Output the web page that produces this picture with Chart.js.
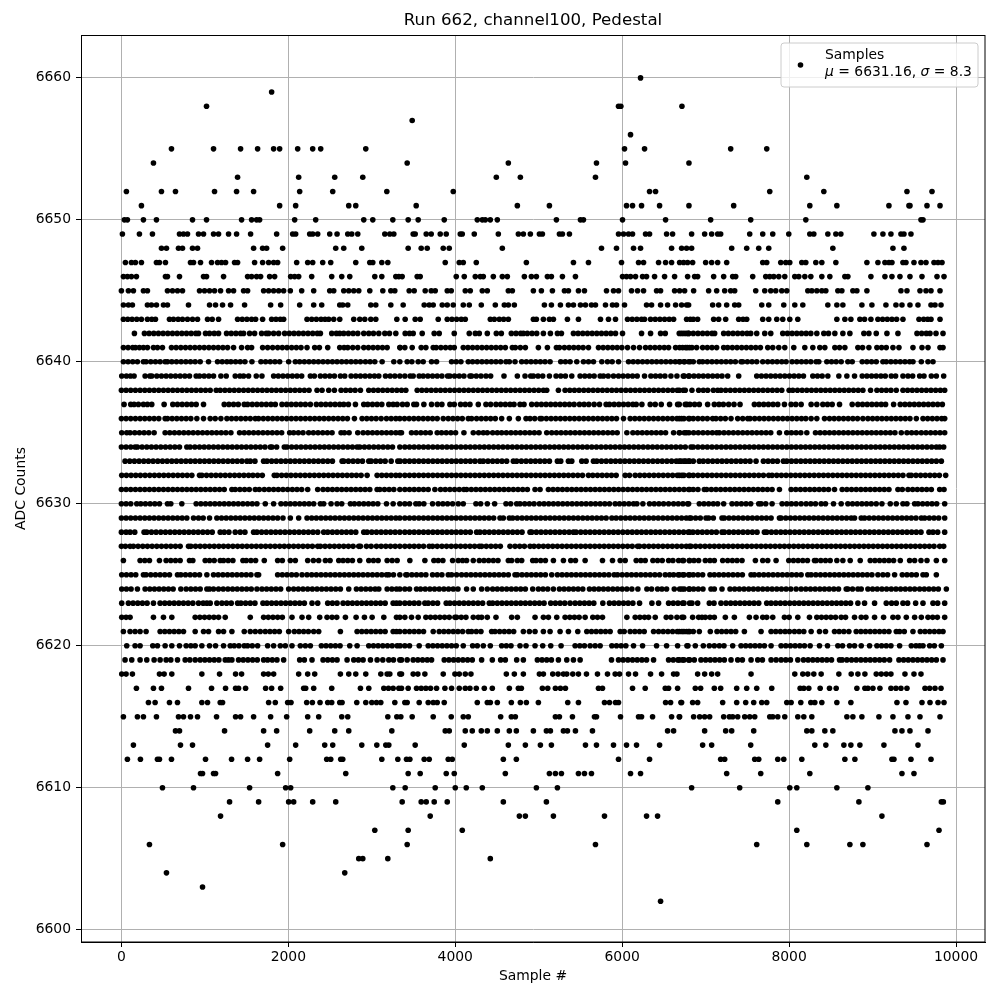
<!DOCTYPE html>
<html>
<head>
<meta charset="utf-8">
<script src="https://cdn.jsdelivr.net/npm/chart.js@4/dist/chart.umd.min.js"></script>
<style>
  html, body { margin: 0; padding: 0; background: #fff; }
  canvas { display: block; }
</style>
</head>
<body>
<canvas id="chart" width="1000" height="1000"></canvas>
<script>
// ─── sample numbers, one array per ADC level ───
const y6660 = [6220];
const y6659 = [1800];
const y6658 = [1020,5956,5984,6716];
const y6657 = [3484];
const y6656 = [6100];
const y6655 = [600,1104,1428,1632,1824,1896,2112,2292,2388,2928,6028,6268,7300,7732];
const y6654 = [384,3424,4636,5692,6040,6800];
const y6653 = [1392,2124,2556,2892,4492,4780,5680,8212];
const y6652 = [60,480,648,1116,1380,1584,2136,2532,3180,3976,6328,6400,7768,8416,9412,9712];
const y6651 = [240,1896,2088,2724,2808,3532,4744,5128,6052,6124,6232,6448,6800,7336,8248,8572,9196,9436,9448,9652,9808];
const y6650 = [36,72,264,420,852,1020,1440,1560,1620,1656,2076,2328,2904,3012,3252,3436,3556,3868,4264,4324,4360,4420,4504,5212,5500,5536,6004,6520,7060,7540,8200,9580,9604];
const y6649 = [12,216,372,696,744,792,924,984,1104,1164,1284,1380,1548,1860,2052,2088,2256,2292,2352,2496,2584,2712,2760,2832,3156,3216,3264,3496,3520,3652,3712,3820,3892,4060,4084,4228,4516,4756,4816,4900,5008,5044,5248,5284,5368,5956,6016,6076,6124,6280,6328,6532,6604,6832,6988,7072,7144,7180,7528,7684,7804,7996,8248,8296,8464,8560,8620,9016,9124,9220,9340,9376,9460];
const y6648 = [480,540,684,732,852,912,1584,1692,1740,1932,2568,2664,2880,3436,3592,3664,3856,3928,4564,5752,5932,6136,6220,6592,6712,6772,6832,7312,7492,7636,7756,8524,9244,9376];
const y6647 = [48,120,168,240,420,456,528,828,864,948,1080,1152,1200,1248,1356,1392,1596,1692,1764,1824,1872,2100,2232,2292,2412,2508,2808,2976,3012,3120,3192,3880,4048,4096,4252,4852,5416,5596,5992,6196,6256,6436,6520,6592,6688,6736,6784,6844,7000,7072,7144,7252,7684,7732,7900,7960,8008,8152,8200,8320,8392,8560,8932,9064,9148,9196,9232,9364,9400,9496,9580,9640,9736,9784,9832];
const y6646 = [24,72,120,180,528,552,696,984,1020,1224,1512,1560,1620,1668,1776,1836,2028,2076,2124,2280,2520,2640,2736,3036,3120,3288,3324,3364,3544,3580,4012,4108,4240,4300,4336,4456,4564,4624,4828,4912,4972,5104,5152,5284,5440,6004,6052,6100,6160,6244,6292,6388,6508,6628,6784,6868,6904,7096,7216,7324,7360,7564,7720,7768,7816,7876,7948,8068,8116,8188,8260,8392,8488,8668,8704,8980,9148,9232,9328,9448,9592,9772,9856];
const y6645 = [0,84,144,264,312,552,612,672,732,936,996,1056,1116,1188,1284,1344,1464,1512,1704,1764,1824,1884,1944,2024,2160,2304,2496,2544,2664,2724,2784,2844,2976,3132,3228,3276,3448,3508,3640,3712,3760,3904,3952,4120,4180,4324,4384,4636,4684,4936,5032,5164,5308,5356,5476,5548,5812,5896,5956,6112,6184,6256,6412,6460,6628,6688,6748,6856,7036,7132,7228,7300,7348,7600,7708,7780,7840,7912,7972,8224,8272,8332,8392,8440,8584,8632,8764,8812,8932,9340,9412,9568,9640,9700,9808];
const y6644 = [24,84,132,312,360,420,504,552,804,1056,1128,1212,1308,1476,1788,1908,2136,2304,2400,2616,2652,2712,2988,3048,3228,3376,3628,3688,3736,3844,3904,3976,4096,4168,4312,4480,4588,4636,4708,5068,5152,5260,5356,5416,5500,5560,5632,5680,5800,5884,5932,6028,6292,6352,6460,6544,6640,6712,6772,6796,7084,7156,7252,7348,7396,7672,7756,7936,8068,8164,8464,8572,8644,8872,8992,9160,9280,9352,9448,9544,9700,9748,9820];
const y6643 = [24,76,128,184,240,312,364,408,576,624,680,732,792,852,912,1032,1088,1164,1392,1448,1504,1560,1608,1692,1800,1852,1904,1944,2224,2280,2336,2392,2440,2484,2544,2616,2784,2856,2916,2988,3048,3300,3400,3520,3580,3796,3904,3960,4016,4072,4120,4420,4468,4528,4580,4636,4936,4972,5056,5128,5176,5344,5476,5740,5836,5920,6064,6120,6176,6232,6268,6340,6396,6452,6508,6564,6616,6772,6816,6852,6904,7096,7156,7240,7396,7448,7492,7684,7756,7852,7924,8008,8104,8572,8668,8740,8848,8904,8980,9064,9120,9176,9232,9288,9364,9556,9612,9660,9700,9808];
const y6642 = [156,276,332,388,444,500,556,612,668,724,780,836,892,924,1008,1056,1112,1164,1260,1316,1372,1428,1464,1536,1596,1680,1736,1764,1824,1884,1956,2012,2068,2124,2180,2236,2292,2348,2384,2520,2576,2616,2664,2720,2776,2832,2904,2964,3020,3084,3156,3212,3288,3400,3452,3496,3604,3748,3808,3988,4168,4240,4288,4384,4492,4552,4672,4728,4784,4816,4864,4920,4976,5056,5140,5224,5272,5416,5472,5528,5584,5640,5696,5752,5808,5864,5920,6004,6232,6340,6460,6516,6712,6768,6796,6684,6740,6796,6852,6908,6964,7020,7076,7108,7216,7272,7328,7384,7440,7496,7540,7612,7708,7780,7924,7980,8036,8092,8148,8204,8260,8332,8416,8472,8548,8644,8728,8896,8956,9044,9172,9304,9532,9588,9644,9688,9760,9844];
const y6641 = [24,80,136,168,216,264,312,384,432,492,600,656,712,768,824,880,936,992,1048,1104,1160,1216,1272,1344,1440,1512,1560,1692,1752,1812,1872,1928,1984,2040,2096,2152,2224,2316,2372,2472,2616,2668,2712,2772,2832,2904,2960,3016,3072,3128,3184,3336,3340,3396,3484,3592,3648,3736,3772,3828,3884,3940,3988,4096,4152,4208,4264,4320,4376,4432,4488,4544,4600,4684,4720,4780,4840,4996,5104,5212,5248,5308,5364,5420,5476,5532,5596,5716,5772,5828,5884,5940,5996,6064,6136,6208,6280,6336,6392,6448,6504,6556,6640,6688,6760,6808,6724,6780,6836,6892,6964,7020,7076,7132,7216,7264,7320,7376,7432,7488,7544,7600,7656,7744,7804,7876,7948,8056,8188,8284,8368,8428,8548,8604,8668,8824,8880,8956,9052,9108,9164,9244,9316,9484,9592,9664,9808,9844];
const y6640 = [24,80,136,192,264,296,352,408,464,524,552,604,660,716,772,828,884,944,1044,1152,1208,1264,1312,1368,1424,1480,1564,1672,1728,1784,1840,1896,2004,2084,2136,2192,2248,2304,2360,2416,2472,2528,2584,2640,2696,2752,2808,2864,2924,2980,3036,3124,3264,3336,3424,3480,3556,3616,3716,3776,3956,4012,4068,4156,4208,4264,4320,4376,4432,4488,4544,4608,4648,4716,4796,4852,4908,4964,5020,5076,5136,5264,5320,5376,5456,5536,5596,5656,5756,5824,5880,5956,6076,6132,6188,6244,6300,6356,6412,6468,6524,6580,6636,6692,6748,6816,6684,6740,6796,6852,6924,6964,7020,7076,7132,7188,7244,7300,7356,7424,7444,7500,7556,7612,7684,7744,7800,7856,7912,7964,8036,8092,8148,8204,8260,8324,8356,8452,8508,8564,8624,8704,8756,8876,8932,8988,9044,9124,9164,9220,9276,9332,9388,9444,9484,9584,9664,9724];
const y6639 = [4,60,108,152,284,340,364,424,480,536,592,648,704,760,816,896,936,992,1048,1104,1192,1256,1364,1420,1464,1524,1616,1684,1824,1880,1936,1992,2048,2104,2160,2264,2312,2384,2440,2496,2552,2624,2676,2752,2808,2864,2920,2976,3032,3084,3164,3220,3276,3336,3396,3460,3496,3568,3616,3672,3728,3784,3840,3908,3936,3992,4048,4104,4176,4196,4252,4308,4368,4424,4584,4744,4836,4904,4936,4992,5048,5128,5208,5264,5320,5396,5496,5552,5608,5664,5736,5776,5832,5896,5956,6012,6068,6124,6180,6268,6344,6400,6456,6512,6584,6656,6744,6796,6732,6804,6860,6916,6972,7028,7084,7140,7196,7264,7396,7612,7668,7724,7780,7836,7892,7948,8004,8060,8116,8172,8284,8340,8396,8464,8596,8692,8784,8876,8932,8988,9044,9100,9152,9224,9276,9364,9424,9480,9564,9616,9704,9764,9852];
const y6638 = [0,56,112,168,224,280,336,392,448,504,560,616,672,728,784,840,896,952,1008,1064,1136,1184,1240,1296,1352,1408,1464,1520,1576,1632,1688,1744,1800,1856,1912,1968,2024,2080,2136,2192,2248,2344,2404,2484,2552,2632,2688,2744,2800,2864,2964,3020,3076,3132,3188,3244,3300,3356,3408,3544,3600,3656,3712,3768,3824,3880,3936,3992,4048,4104,4160,4216,4272,4328,4384,4440,4496,4552,4608,4664,4720,4776,4832,4888,4944,5000,5056,5096,5236,5316,5372,5428,5484,5540,5596,5652,5708,5764,5820,5876,5932,5988,6044,6100,6156,6212,6268,6324,6380,6436,6492,6548,6604,6660,6756,6684,6732,6836,6916,6972,7024,7092,7144,7184,7240,7296,7352,7408,7464,7520,7576,7632,7688,7744,7800,7856,7912,8000,8044,8100,8156,8212,8268,8324,8380,8436,8492,8548,8604,8660,8716,8772,8828,8884,8976,9052,9108,9164,9220,9284,9364,9420,9476,9532,9588,9644,9700,9756,9812,9864];
const y6637 = [32,112,152,204,264,312,364,512,616,672,728,784,840,896,984,1232,1288,1344,1400,1472,1512,1568,1624,1680,1736,1792,1844,1924,1980,2036,2092,2148,2204,2264,2336,2392,2448,2504,2560,2616,2664,2720,2804,2904,2952,3008,3064,3120,3204,3256,3304,3368,3424,3504,3536,3624,3716,3784,3840,3936,3988,4064,4120,4176,4276,4368,4424,4488,4544,4600,4656,4704,4776,4824,4916,4976,5032,5088,5144,5200,5256,5312,5368,5424,5488,5544,5600,5664,5728,5808,5848,5904,5960,6016,6072,6128,6168,6236,6336,6396,6468,6568,6664,6776,6684,6756,6812,6868,6924,7024,7104,7160,7212,7276,7340,7412,7584,7640,7696,7752,7808,7864,7944,8024,8080,8144,8264,8332,8404,8460,8516,8604,8756,8824,8880,8936,8992,9048,9104,9156,9252,9332,9388,9444,9500,9556,9612,9668,9724,9780,9836];
const y6636 = [0,56,112,168,224,280,336,392,448,524,552,608,664,720,776,832,904,984,1064,1124,1192,1264,1320,1376,1432,1488,1544,1604,1644,1700,1756,1812,1868,1924,1980,2036,2092,2148,2204,2260,2316,2372,2428,2484,2540,2596,2652,2708,2792,2884,2940,2996,3052,3112,3176,3232,3288,3336,3392,3448,3504,3560,3616,3672,3728,3784,3856,3916,3972,4028,4084,4156,4196,4256,4312,4368,4424,4480,4556,4648,4756,4848,4896,4952,5016,5036,5092,5148,5204,5260,5316,5372,5428,5484,5540,5596,5652,5708,5764,5820,5876,5932,6016,6096,6152,6208,6264,6320,6376,6432,6488,6544,6600,6656,6712,6808,6684,6740,6796,6852,6908,6964,7020,7084,7124,7180,7236,7304,7384,7444,7504,7532,7588,7644,7700,7756,7812,7868,7924,7980,8036,8092,8148,8200,8264,8332,8424,8484,8540,8596,8652,8708,8764,8820,8884,8944,9000,9056,9112,9168,9224,9280,9336,9392,9448,9524,9604,9660,9716,9772,9828,9864];
const y6635 = [4,64,104,160,216,272,328,392,524,580,636,692,748,804,860,916,972,1028,1084,1140,1196,1252,1312,1416,1472,1528,1584,1640,1696,1752,1808,1864,1920,2016,2064,2120,2176,2244,2300,2356,2412,2468,2524,2632,2672,2728,2832,2896,2952,3008,3064,3120,3176,3232,3288,3336,3356,3476,3532,3588,3644,3700,3784,3836,3892,3948,4004,4104,4216,4280,4336,4384,4448,4504,4556,4612,4668,4724,4780,4836,4892,4948,5004,5096,5156,5212,5268,5324,5380,5436,5492,5548,5604,5660,5716,5772,5828,5884,5940,6056,6128,6184,6240,6296,6352,6408,6464,6520,6616,6688,6768,6684,6744,6800,6856,6912,6968,7024,7080,7132,7164,7220,7276,7332,7388,7444,7500,7556,7612,7668,7724,7780,7884,7972,8028,8084,8140,8212,8316,8372,8428,8484,8540,8596,8652,8708,8764,8820,8876,8932,8988,9044,9100,9156,9212,9268,9344,9412,9468,9524,9584,9640,9696,9752,9808,9864];
const y6634 = [0,56,112,164,192,248,304,360,416,472,528,584,640,696,784,824,880,936,992,1048,1104,1160,1216,1272,1328,1384,1440,1496,1552,1608,1664,1720,1784,1804,1860,1952,1984,2040,2096,2152,2208,2264,2320,2376,2432,2488,2544,2600,2656,2712,2768,2824,2856,2912,2968,3024,3080,3136,3192,3248,3336,3396,3452,3508,3564,3620,3676,3732,3788,3844,3900,3956,4012,4068,4124,4180,4236,4292,4348,4404,4460,4516,4572,4628,4684,4740,4796,4852,4908,4964,5020,5076,5132,5188,5244,5300,5356,5412,5468,5524,5580,5636,5692,5748,5804,5860,5916,5972,6028,6084,6140,6196,6252,6308,6364,6420,6476,6532,6588,6644,6700,6756,6824,6852,6908,6964,7020,7076,7132,7188,7244,7300,7356,7412,7468,7524,7580,7636,7692,7748,7804,7860,7916,7972,8028,8084,8140,8196,8252,8308,8364,8420,8476,8532,8588,8644,8700,8756,8812,8868,8924,8980,9036,9092,9148,9204,9260,9316,9372,9428,9484,9540,9596,9652,9708,9764,9804,9852];
const y6633 = [44,100,156,212,268,324,380,436,492,548,604,660,716,772,828,884,940,996,1052,1108,1164,1220,1276,1332,1388,1444,1504,1544,1600,1704,1744,1800,1856,1912,1968,2024,2080,2136,2192,2248,2304,2360,2416,2472,2528,2644,2664,2720,2776,2832,2888,2964,2992,3048,3104,3160,3232,3312,3340,3396,3452,3508,3564,3620,3676,3732,3788,3844,3900,3956,4012,4068,4124,4180,4236,4296,4336,4392,4448,4504,4560,4616,4696,4736,4792,4848,4904,4960,5016,5072,5128,5224,5264,5356,5396,5516,5568,5656,5696,5752,5808,5864,5920,5976,6032,6088,6144,6200,6256,6312,6368,6424,6480,6536,6592,6648,6704,6760,6808,6684,6740,6796,6852,6924,6972,7028,7084,7140,7196,7252,7308,7364,7420,7476,7532,7604,7692,7748,7804,7860,7932,7972,8028,8084,8140,8196,8252,8308,8364,8420,8476,8532,8588,8644,8700,8756,8812,8868,8924,8980,9036,9092,9148,9204,9260,9316,9372,9428,9484,9540,9596,9652,9708,9764,9824];
const y6632 = [4,60,116,172,228,284,340,396,452,508,564,620,676,732,788,844,936,964,1020,1076,1132,1188,1244,1300,1356,1412,1468,1524,1576,1632,1688,1832,1864,1920,1976,2032,2088,2144,2200,2256,2312,2368,2424,2480,2536,2592,2648,2704,2760,2816,2872,2944,3064,3120,3176,3232,3288,3336,3396,3452,3508,3564,3620,3676,3732,3788,3844,3900,3956,4012,4068,4124,4180,4236,4292,4348,4404,4460,4516,4572,4628,4684,4740,4796,4852,4908,4964,5020,5076,5132,5188,5244,5300,5356,5412,5468,5524,5596,5648,5704,5760,5816,5872,5928,6036,6088,6156,6212,6268,6324,6380,6436,6492,6548,6604,6660,6716,6808,6684,6740,6796,6852,6908,6964,7020,7076,7132,7188,7244,7300,7356,7412,7468,7524,7580,7636,7692,7756,7796,7852,7908,7964,8020,8076,8132,8188,8244,8300,8356,8412,8468,8524,8580,8636,8692,8748,8804,8860,8916,8972,9028,9084,9140,9196,9252,9308,9364,9436,9464,9520,9576,9632,9688,9744,9800,9876];
const y6631 = [0,56,112,168,224,280,336,392,448,504,560,616,672,728,784,840,896,952,1008,1064,1120,1176,1232,1324,1364,1420,1476,1532,1604,1652,1712,1768,1824,1880,1936,1992,2048,2104,2160,2232,2352,2416,2472,2528,2584,2640,2696,2752,2808,2864,2920,2976,3064,3096,3152,3208,3264,3336,3396,3452,3508,3564,3620,3676,3756,3824,3880,3936,3992,4048,4104,4136,4192,4248,4304,4360,4416,4472,4528,4584,4640,4696,4752,4808,4864,4956,5016,5116,5172,5228,5284,5340,5396,5452,5508,5564,5620,5676,5732,5788,5844,5900,5956,6012,6068,6124,6180,6236,6292,6348,6404,6460,6516,6572,6628,6684,6740,6808,6796,6852,6908,6984,7012,7068,7124,7180,7236,7292,7348,7404,7460,7516,7572,7628,7684,7740,7796,7884,8024,8080,8136,8192,8248,8304,8360,8416,8472,8544,8636,8692,8748,8804,8860,8916,8972,9028,9084,9140,9196,9304,9356,9424,9480,9536,9592,9648,9704,9804,9856];
const y6630 = [0,56,112,184,232,288,344,400,456,552,592,724,896,952,1008,1064,1120,1176,1232,1288,1344,1400,1456,1512,1568,1624,1724,1824,1912,1968,2024,2080,2136,2192,2248,2304,2384,2424,2512,2584,2640,2744,2792,2848,2904,2960,3016,3072,3176,3256,3336,3396,3452,3528,3568,3624,3728,3796,3852,3908,3968,4036,4096,4248,4304,4384,4472,4608,4664,4736,4776,4832,4888,4944,5008,5064,5120,5176,5232,5288,5344,5400,5456,5512,5568,5624,5680,5736,5792,5848,5916,5968,6024,6080,6136,6176,6248,6328,6384,6440,6496,6556,6616,6672,6728,6796,6784,6924,6980,7036,7092,7144,7216,7316,7372,7428,7484,7540,7636,7664,7720,7796,7916,7972,8028,8084,8144,8204,8260,8316,8384,8436,8532,8624,8704,8760,8816,8872,8928,8984,9044,9112,9212,9284,9364,9412,9504,9544,9600,9656,9712,9768,9864];
const y6629 = [0,56,112,168,224,280,336,392,448,504,560,616,672,728,784,864,924,980,1056,1144,1200,1256,1312,1368,1424,1480,1536,1592,1648,1704,1760,1816,1872,1936,2024,2124,2224,2280,2336,2392,2448,2504,2560,2616,2672,2728,2784,2840,2896,2952,3008,3064,3120,3176,3232,3288,3336,3396,3452,3508,3564,3620,3676,3732,3788,3844,3900,3956,4012,4068,4124,4180,4236,4292,4348,4404,4460,4536,4576,4648,4688,4744,4800,4856,4912,4968,5024,5080,5136,5192,5248,5304,5360,5416,5472,5528,5584,5640,5696,5752,5808,5876,5928,5984,6040,6096,6152,6208,6264,6320,6376,6432,6488,6544,6600,6656,6712,6808,6768,6824,6880,6936,7004,7036,7092,7196,7224,7280,7336,7392,7448,7504,7560,7616,7672,7728,7784,7884,7904,7960,8016,8072,8128,8184,8240,8296,8352,8408,8464,8520,8576,8632,8688,8744,8784,8864,8904,8960,9016,9072,9128,9184,9240,9296,9352,9408,9464,9520,9584,9624,9680,9736,9792,9864];
const y6628 = [0,56,104,160,272,304,360,416,472,528,584,640,696,752,808,864,920,976,1032,1088,1184,1232,1288,1364,1424,1480,1584,1624,1680,1736,1792,1848,1904,1960,2016,2072,2128,2184,2240,2296,2352,2424,2472,2528,2584,2640,2696,2752,2808,2904,2944,3000,3056,3112,3168,3224,3280,3336,3396,3452,3508,3564,3620,3676,3732,3788,3844,3900,3956,4012,4068,4124,4180,4256,4296,4352,4408,4464,4520,4576,4632,4688,4744,4800,4896,4916,4972,5028,5084,5140,5196,5252,5308,5364,5416,5448,5504,5560,5616,5672,5728,5784,5840,5896,5952,6008,6064,6120,6176,6232,6288,6344,6400,6456,6512,6568,6624,6680,6736,6808,6792,6848,6904,6960,7016,7072,7128,7196,7224,7280,7336,7392,7448,7504,7560,7616,7704,7732,7788,7844,7900,7956,8012,8068,8124,8180,8236,8292,8348,8404,8460,8516,8572,8628,8684,8740,8796,8852,8908,8964,9020,9076,9132,9188,9244,9300,9356,9412,9468,9524,9580,9676,9724,9780,9864];
const y6627 = [0,48,104,144,200,256,312,368,424,480,536,592,648,704,804,832,888,944,1000,1056,1112,1168,1224,1280,1336,1392,1448,1504,1560,1616,1672,1728,1784,1840,1896,1952,2008,2064,2120,2176,2232,2288,2352,2384,2440,2496,2552,2608,2664,2720,2776,2844,2864,2936,2992,3056,3112,3168,3224,3280,3336,3396,3452,3508,3564,3620,3688,3728,3784,3840,3896,3952,4008,4064,4120,4176,4232,4288,4316,4372,4428,4484,4540,4656,4716,4772,4828,4896,4944,5000,5056,5112,5168,5224,5280,5336,5392,5448,5504,5560,5616,5672,5728,5784,5840,5896,5952,6008,6064,6120,6184,6208,6264,6320,6376,6432,6488,6544,6600,6656,6712,6808,6768,6824,6880,6936,6992,7048,7104,7160,7216,7272,7328,7384,7440,7496,7552,7608,7664,7720,7776,7832,7888,7944,8000,8056,8112,8168,8224,8280,8336,8392,8448,8504,8560,8616,8672,8728,8784,8840,8896,8952,9008,9064,9120,9176,9232,9288,9344,9400,9456,9512,9568,9624,9680,9736,9804,9852];
const y6626 = [24,224,280,336,456,536,592,648,704,816,856,1004,1056,1112,1184,1224,1280,1336,1456,1496,1552,1608,1712,1872,1928,2024,2084,2232,2300,2364,2444,2500,2604,2656,2712,2768,2856,2964,3020,3076,3184,3244,3304,3456,3636,3744,3796,3852,3968,4036,4088,4136,4216,4288,4344,4400,4456,4512,4636,4676,4744,4796,4928,4968,5024,5080,5176,5296,5384,5440,5556,5764,5884,5976,6036,6168,6224,6276,6368,6424,6480,6556,6608,6676,6736,6808,6724,6804,6860,6916,6996,7052,7104,7204,7264,7320,7376,7436,7596,7684,7744,7844,7996,8052,8108,8164,8220,8304,8324,8380,8436,8492,8572,8644,8732,8852,8972,9028,9084,9140,9196,9252,9332,9444,9504,9580,9652,9764,9864];
const y6625 = [4,60,116,172,264,296,352,408,464,520,576,672,712,768,824,880,936,1024,1104,1160,1216,1272,1328,1384,1440,1496,1552,1624,1644,1872,1928,1984,2040,2096,2164,2224,2280,2336,2392,2448,2504,2560,2616,2672,2728,2784,2840,2896,2952,3008,3064,3120,3176,3204,3260,3336,3408,3424,3480,3536,3592,3648,3728,3784,3840,3916,3956,4016,4076,4132,4188,4244,4300,4356,4412,4468,4524,4580,4636,4716,4744,4800,4856,4912,4968,5024,5080,5156,5224,5280,5336,5392,5448,5504,5560,5616,5672,5728,5784,5840,5904,5944,6000,6056,6112,6168,6224,6280,6336,6392,6448,6516,6568,6616,6672,6728,6808,6684,6740,6796,6852,6908,6964,7052,7104,7160,7216,7272,7328,7384,7440,7544,7584,7640,7696,7752,7808,7864,7920,7976,8032,8088,8144,8224,8264,8320,8376,8432,8488,8544,8600,8656,8712,8768,8824,8880,8936,8992,9064,9124,9180,9264,9356,9412,9468,9524,9604,9644,9764];
const y6624 = [4,60,116,192,284,340,396,452,508,564,620,712,776,832,888,944,1024,1056,1104,1164,1220,1276,1332,1388,1444,1500,1556,1624,1684,1740,1796,1852,1908,2004,2064,2120,2176,2232,2288,2344,2400,2456,2512,2568,2624,2724,2816,2872,2928,2984,3040,3084,3184,3240,3296,3336,3396,3452,3536,3584,3640,3696,3752,3808,3864,3920,3976,4032,4136,4216,4316,4384,4448,4504,4560,4616,4672,4728,4784,4840,4928,4996,5052,5108,5176,5248,5304,5360,5416,5472,5528,5608,5664,5720,5776,5832,5888,5944,6000,6056,6116,6188,6296,6352,6424,6476,6532,6624,6688,6744,6808,6716,6800,6856,6912,6968,7064,7104,7196,7292,7348,7404,7460,7516,7572,7628,7684,7740,7796,7852,7908,7964,8020,8084,8144,8200,8256,8312,8368,8424,8480,8536,8592,8684,8704,8760,8824,8864,8944,9000,9056,9112,9168,9224,9280,9336,9392,9448,9504,9564,9620,9676,9732,9788,9884];
const y6623 = [4,84,140,196,252,308,384,464,520,576,632,688,744,800,856,924,980,1024,1064,1144,1204,1260,1316,1392,1432,1488,1544,1600,1696,1744,1800,1856,1912,1968,2024,2080,2136,2192,2284,2352,2472,2528,2584,2656,2712,2768,2824,2880,2936,2992,3048,3104,3160,3256,3296,3336,3396,3452,3508,3564,3636,3676,3732,3788,3892,3936,3992,4048,4104,4160,4216,4272,4328,4408,4448,4504,4560,4616,4672,4728,4784,4840,4896,4952,5008,5064,5144,5200,5256,5312,5376,5436,5492,5548,5604,5660,5768,5848,5904,5960,6016,6072,6128,6208,6356,6436,6556,6612,6668,6724,6808,6740,6836,6904,7044,7100,7184,7244,7300,7356,7412,7468,7524,7580,7636,7732,7784,7840,7896,7952,8008,8064,8120,8176,8232,8288,8344,8400,8456,8512,8568,8624,8680,8736,8824,8904,9024,9164,9228,9284,9364,9420,9516,9604,9724,9780,9864];
const y6622 = [4,56,104,384,504,604,884,940,996,1052,1108,1164,1244,1544,1704,1760,1816,1872,1928,2044,2164,2244,2376,2464,2524,2580,2684,2812,2912,3004,3144,3296,3336,3396,3476,3556,3648,3704,3760,3816,3872,3928,3996,4016,4072,4128,4216,4276,4316,4384,4488,4676,4744,4956,5056,5116,5216,5316,5372,5428,5484,5556,5648,5704,5764,6056,6156,6212,6268,6316,6396,6528,6584,6656,6736,6716,6844,6916,6956,6996,7052,7104,7236,7344,7524,7604,7684,7732,7804,7944,8000,8104,8244,8332,8388,8444,8500,8556,8624,8676,8784,8864,8920,9024,9132,9244,9304,9404,9504,9584,9664,9720,9776,9864];
const y6621 = [24,104,164,224,296,464,520,576,632,688,744,884,984,1044,1164,1224,1324,1472,1544,1604,1664,1724,1780,1836,1892,2004,2072,2128,2184,2240,2304,2364,2624,2824,2880,2936,2992,3048,3104,3160,3256,3296,3336,3396,3452,3508,3564,3620,3736,3808,3864,3920,3976,4032,4088,4156,4196,4252,4308,4436,4476,4532,4588,4644,4700,4816,4888,4956,5056,5136,5256,5356,5468,5576,5632,5688,5744,5800,5856,5976,6024,6096,6152,6208,6264,6376,6436,6492,6548,6604,6660,6716,6772,6808,6684,6740,6796,6852,6924,7056,7136,7192,7248,7304,7360,7464,7664,7784,7840,7896,7952,8004,8064,8120,8176,8264,8364,8436,8544,8600,8656,8716,8804,8860,8916,8972,9028,9084,9140,9196,9284,9324,9380,9484,9572,9628,9684,9740,9796,9844];
const y6620 = [64,164,224,376,432,524,604,696,776,832,884,964,1056,1128,1224,1304,1352,1408,1472,1512,1568,1632,1752,1824,1904,1964,2044,2144,2204,2264,2396,2452,2508,2564,2620,2736,2824,2964,3020,3076,3132,3188,3244,3304,3340,3396,3452,3568,3676,3732,3788,3844,3900,3956,4012,4096,4208,4264,4336,4420,4556,4612,4668,4776,4848,4956,5048,5144,5268,5436,5492,5548,5616,5676,5736,5876,5932,5988,6044,6136,6244,6412,6532,6664,6776,6788,6876,6972,7044,7104,7164,7220,7324,7424,7480,7536,7592,7648,7704,7784,7904,7960,8016,8072,8128,8184,8252,8364,8460,8584,8640,8724,8784,8864,8964,9052,9108,9164,9220,9324,9464,9520,9564,9604,9684,9740,9824];
const y6619 = [44,124,224,304,392,464,536,592,672,764,820,884,944,1000,1056,1112,1168,1244,1284,1324,1404,1460,1516,1572,1628,1704,1752,1808,1864,1944,2136,2192,2284,2416,2472,2528,2584,2704,2784,2840,2896,2984,3064,3132,3204,3260,3336,3356,3424,3496,3552,3608,3664,3716,3868,3924,3980,4036,4092,4148,4204,4316,4444,4544,4600,4736,4816,4984,5040,5096,5152,5236,5336,5416,5496,5872,5956,6012,6068,6124,6180,6236,6292,6376,6556,6612,6668,6724,6808,6684,6740,6796,6864,6944,7000,7056,7112,7168,7224,7304,7384,7440,7544,7624,7680,7784,7844,7904,7960,8016,8104,8172,8228,8284,8340,8396,8452,8508,8604,8636,8692,8748,8804,8860,8916,8972,9028,9084,9140,9204,9316,9372,9428,9484,9540,9596,9652,9708,9764,9844];
const y6618 = [4,56,132,456,512,604,964,1176,1368,1440,1704,1760,1824,2124,2232,2316,2624,2724,2808,2928,3108,3184,3216,3336,3356,3496,3552,3636,3856,3996,4048,4120,4188,4612,4708,4816,5008,5056,5168,5232,5296,5336,5408,5476,5572,5704,5824,5916,5968,6076,6160,6340,6472,6616,6656,6904,6988,7072,7144,7544,8068,8164,8224,8296,8384,8596,8744,8824,8908,9044,9104,9164,9220,9388,9496,9580];
const y6617 = [180,384,480,804,1080,1248,1368,1404,1488,1728,1800,1908,2184,2208,2304,2520,2864,2964,3144,3200,3256,3324,3356,3436,3536,3592,3648,3704,3776,3876,3956,4048,4120,4176,4252,4348,4444,4648,4756,4792,5044,5108,5200,5260,5320,5716,5764,6124,6276,6516,6556,6664,6876,6940,7104,7180,7372,7492,7612,7792,8132,8176,8236,8372,8484,8564,8812,8908,8944,9004,9088,9220,9280,9340,9412,9628,9684,9748,9820];
const y6616 = [324,404,576,672,964,1032,1184,1212,1764,1844,1992,2032,2220,2288,2380,2472,2520,2616,2644,2820,2928,3000,3056,3108,3276,3396,3424,3568,3676,3736,3784,3868,4264,4384,4420,4504,4672,4780,4852,4996,5348,5476,5788,5848,5920,5956,6520,6580,6712,6704,6844,6904,7204,7372,7480,7576,7672,7732,7972,8024,8140,8260,8308,8392,8572,8740,9292,9400,9592,9688,9784,9856];
const y6615 = [24,192,264,420,684,744,828,912,1140,1368,1428,1584,1788,1980,2232,2364,2640,2712,3192,3300,3348,3484,3736,3952,4096,4156,4544,4672,4720,5200,5248,5404,5668,5692,5980,6196,6232,6364,6592,6688,6684,6856,6928,6988,7048,7216,7284,7324,7384,7468,7528,7588,7768,7804,7864,7948,8104,8176,8272,8692,8764,8872,9076,9244,9424,9568,9808];
const y6614 = [648,696,1236,1704,1860,2256,2556,2724,3240,3880,3928,4120,4204,4312,4384,4504,4648,4732,4936,5092,5140,5296,5344,5440,5644,6544,6616,6988,7240,7312,7576,8212,8272,8428,8524,9268,9352,9448,9664];
const y6613 = [144,708,852,1752,2088,2436,2532,2880,3060,3168,3204,3520,4108,4636,4840,5020,5152,5560,5692,5896,6052,6172,6448,6964,7072,7540,8308,8440,8656,8740,8848,9136,9544];
const y6612 = [72,228,432,456,600,1008,1320,1512,1656,2016,2460,2508,2628,2652,3120,3312,3416,3456,3628,3688,3916,3964,4576,4732,5956,6328,7180,7228,7588,7636,7864,7936,8152,8668,8788,9232,9256,9460,9700];
const y6611 = [948,972,1104,1128,1872,2688,3436,3580,3892,3988,4600,5128,5200,5272,5476,5548,5632,6100,6220,7252,7660,8248,9352,9496];
const y6610 = [492,864,1536,1968,2028,3252,3400,3760,4000,4132,4324,4972,5224,6832,7408,8008,8092,8572,8944];
const y6609 = [1296,1644,2004,2064,2292,2568,3364,3592,3652,3748,3904,4576,5092,7864,8836,9824,9848];
const y6608 = [1188,3700,4768,4840,5176,5788,6292,6424,9112];
const y6607 = [3036,3436,4084,8092,9796];
const y6606 = [336,1932,3424,5680,7612,8212,8728,8884,9652];
const y6605 = [2844,2892,3192,4420];
const y6604 = [540,2676];
const y6603 = [972];
const y6602 = [6460];

const levels = [6660,6659,6658,6657,6656,6655,6654,6653,6652,6651,6650,6649,6648,6647,6646,6645,6644,6643,6642,6641,6640,6639,6638,6637,6636,6635,6634,6633,6632,6631,6630,6629,6628,6627,6626,6625,6624,6623,6622,6621,6620,6619,6618,6617,6616,6615,6614,6613,6612,6611,6610,6609,6608,6607,6606,6605,6604,6603,6602];
const samplesAtLevel = [y6660,y6659,y6658,y6657,y6656,y6655,y6654,y6653,y6652,y6651,y6650,y6649,y6648,y6647,y6646,y6645,y6644,y6643,y6642,y6641,y6640,y6639,y6638,y6637,y6636,y6635,y6634,y6633,y6632,y6631,y6630,y6629,y6628,y6627,y6626,y6625,y6624,y6623,y6622,y6621,y6620,y6619,y6618,y6617,y6616,y6615,y6614,y6613,y6612,y6611,y6610,y6609,y6608,y6607,y6606,y6605,y6604,y6603,y6602];

const xTickValues = [0, 2000, 4000, 6000, 8000, 10000];
const yTickValues = [6600, 6610, 6620, 6630, 6640, 6650, 6660];

const FONT = 'DejaVu Sans';
const points = [];
levels.forEach((lv, i) => samplesAtLevel[i].forEach(x => points.push({ x, y: lv })));

/** Frame around the axes, on top of grid and points. */
const framePlugin = {
  id: 'frame',
  afterDatasetsDraw(chart) {
    const { ctx, chartArea: a } = chart;
    ctx.save();
    ctx.strokeStyle = '#000';
    ctx.lineWidth = 1;
    ctx.strokeRect(a.left + 0.5, a.top + 0.5, a.right - a.left - 0.5, a.bottom - a.top - 0.5);
    ctx.restore();
  },
};

/** Matplotlib style legend box with the two line label. */
const legendPlugin = {
  id: 'mplLegend',
  afterDraw(chart) {
    const { ctx } = chart;
    ctx.save();
    ctx.beginPath();
    ctx.roundRect(781, 43, 197, 44, 3);
    ctx.fillStyle = 'rgba(255,255,255,0.8)';
    ctx.fill();
    ctx.strokeStyle = '#ccc';
    ctx.lineWidth = 1;
    ctx.stroke();
    ctx.fillStyle = '#000';
    ctx.beginPath();
    ctx.arc(800.5, 65, 2.8, 0, Math.PI * 2);
    ctx.fill();
    ctx.textBaseline = 'alphabetic';
    ctx.font = `13.9px "${FONT}"`;
    ctx.fillText('Samples', 825, 59);
    let x = 825;
    [['μ', true], [' = 6631.16, ', false], ['σ', true], [' = 8.3', false]].forEach(([t, it]) => {
      ctx.font = `${it ? 'italic ' : ''}13.9px "${FONT}"`;
      ctx.fillText(t, x, 76);
      x += ctx.measureText(t).width;
    });
    ctx.restore();
  },
};

new Chart(document.getElementById('chart').getContext('2d'), {
  type: 'scatter',
  data: {
    datasets: [{
      label: 'Samples',
      data: points,
      backgroundColor: '#000',
      borderColor: '#000',
      pointRadius: 2.8,
      pointBorderWidth: 0,
    }],
  },
  plugins: [framePlugin, legendPlugin],
  options: {
    responsive: false,
    animation: false,
    layout: { padding: { right: 15, left: 0, top: 0, bottom: 0 } },
    plugins: {
      legend: { display: false },
      tooltip: { enabled: false },
      title: {
        display: true,
        fullSize: false,
        text: 'Run 662, channel100, Pedestal',
        color: '#000',
        font: { family: FONT, size: 16.67, weight: 'normal' },
        padding: { top: 11, bottom: 4 },
      },
    },
    scales: {
      x: {
        type: 'linear',
        min: -484,
        max: 10347,
        afterBuildTicks(s) { s.ticks = xTickValues.map(value => ({ value })); },
        afterFit(s) { s.height = 58; },
        grid: { color: '#b0b0b0', lineWidth: 1, tickColor: '#000', tickLength: 5 },
        border: { color: '#000' },
        ticks: {
          color: '#000', autoSkip: false, maxRotation: 0, padding: 2,
          font: { family: FONT, size: 13.9 },
          callback: v => String(v),
        },
        title: {
          display: true, text: 'Sample #', color: '#000',
          font: { family: FONT, size: 13.9 }, padding: { top: 4, bottom: 15 },
        },
      },
      y: {
        type: 'linear',
        min: 6599.13,
        max: 6663.02,
        afterBuildTicks(s) { s.ticks = yTickValues.map(value => ({ value })); },
        afterFit(s) { s.width = 81; },
        grid: { color: '#b0b0b0', lineWidth: 1, tickColor: '#000', tickLength: 5 },
        border: { color: '#000' },
        ticks: {
          color: '#000', autoSkip: false, padding: 5,
          font: { family: FONT, size: 13.9 },
          callback: v => String(v),
        },
        title: {
          display: true, text: 'ADC Counts', color: '#000',
          font: { family: FONT, size: 13.9 }, padding: { top: 13, bottom: 4 },
        },
      },
    },
  },
});
</script>
</body>
</html>
